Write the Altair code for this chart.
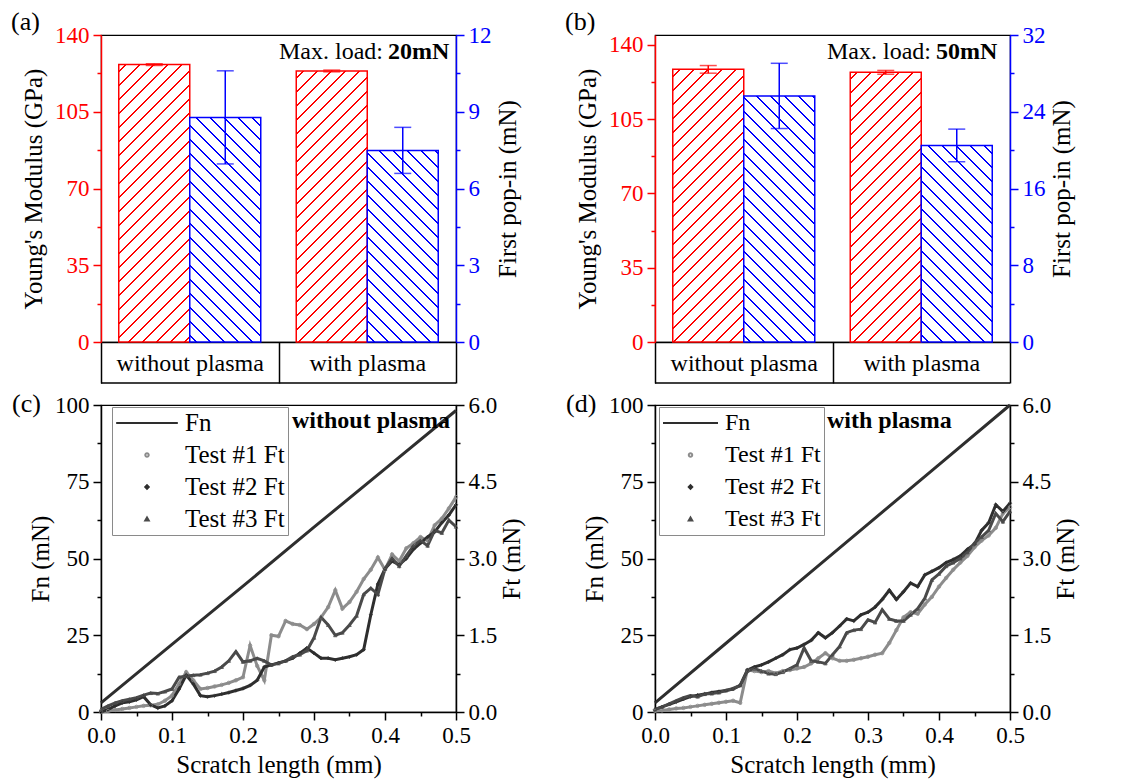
import altair as alt
import pandas as pd

FONT = "Liberation Serif"
RED = "#ff0000"
BLUE = "#0000ff"

# ---------------- data: bar panels (a) and (b) ----------------
categories = ["without plasma", "with plasma"]
modulus_20mN = [126.5, 123.6]
modulus_20mN_err = [0.4, 0.4]
popin_20mN = [8.78, 7.49]
popin_20mN_err = [1.82, 0.90]
modulus_50mN = [128.5, 127.1]
modulus_50mN_err = [1.8, 0.9]
popin_50mN = [25.65, 20.49]
popin_50mN_err = [3.4, 1.7]

# ---------------- data: scratch panels (c) and (d) ----------------
scratch_mm = [0.00, 0.01, 0.02, 0.03, 0.04, 0.05, 0.06, 0.07, 0.08, 0.09,
              0.10, 0.11, 0.12, 0.13, 0.14, 0.15, 0.16, 0.17, 0.18, 0.19,
              0.20, 0.21, 0.22, 0.23, 0.24, 0.25, 0.26, 0.27, 0.28, 0.29,
              0.30, 0.31, 0.32, 0.33, 0.34, 0.35, 0.36, 0.37, 0.38, 0.39,
              0.40, 0.41, 0.42, 0.43, 0.44, 0.45, 0.46, 0.47, 0.48, 0.49, 0.50]
fn_mm = [0.0, 0.1, 0.2, 0.3, 0.4, 0.5]
fn_without = [3.0, 22.0, 41.0, 60.2, 79.2, 98.2]
fn_with = [3.0, 22.4, 41.8, 61.2, 80.6, 100.0]

ft1_without = [0.00, 0.02, 0.04, 0.06, 0.08, 0.10, 0.12, 0.13, 0.15, 0.22,
               0.32, 0.55, 0.78, 0.62, 0.45, 0.47, 0.50, 0.53, 0.57, 0.62,
               0.68, 1.30, 0.90, 0.62, 1.50, 1.48, 1.78, 1.72, 1.70, 1.62,
               1.72, 1.85, 2.05, 2.38, 2.02, 2.15, 2.35, 2.60, 2.78, 3.02,
               2.78, 3.08, 2.95, 3.20, 3.30, 3.42, 3.35, 3.65, 3.78, 3.98, 4.20]
ft2_without = [0.00, 0.05, 0.12, 0.18, 0.20, 0.24, 0.30, 0.14, 0.08, 0.12,
               0.22, 0.45, 0.72, 0.55, 0.32, 0.30, 0.32, 0.35, 0.38, 0.42,
               0.46, 0.52, 0.62, 0.88, 0.92, 0.96, 1.00, 1.05, 1.15, 1.25,
               1.15, 1.05, 1.05, 1.02, 1.05, 1.08, 1.12, 1.22, 1.90, 2.50,
               2.80, 2.95, 2.88, 3.00, 3.18, 3.30, 3.42, 3.52, 3.70, 3.85, 4.05]
ft3_without = [0.05, 0.12, 0.18, 0.22, 0.25, 0.28, 0.33, 0.37, 0.36, 0.40,
               0.45, 0.68, 0.70, 0.72, 0.73, 0.76, 0.80, 0.88, 1.00, 1.18,
               0.98, 1.00, 1.05, 1.00, 0.92, 0.95, 1.00, 1.08, 1.12, 1.20,
               1.45, 1.85, 1.70, 1.50, 1.55, 1.70, 1.88, 2.30, 2.42, 2.30,
               2.80, 3.00, 2.85, 3.05, 3.25, 3.35, 3.25, 3.55, 3.50, 3.75, 3.62]

ft1_with = [0.02, 0.03, 0.05, 0.07, 0.08, 0.10, 0.12, 0.14, 0.16, 0.18,
            0.20, 0.22, 0.18, 0.82, 0.80, 0.78, 0.80, 0.76, 0.80, 0.82,
            0.85, 0.88, 0.95, 1.05, 1.15, 1.05, 1.00, 1.00, 1.02, 1.05,
            1.08, 1.12, 1.15, 1.35, 1.60, 1.85, 1.95, 1.92, 2.10, 2.25,
            2.45, 2.62, 2.78, 2.92, 3.05, 3.22, 3.35, 3.45, 3.60, 3.88, 4.00]
ft2_with = [0.05, 0.10, 0.15, 0.20, 0.25, 0.30, 0.33, 0.35, 0.38, 0.40,
            0.42, 0.45, 0.52, 0.82, 0.88, 0.92, 0.98, 1.05, 1.12, 1.22,
            1.25, 1.32, 1.40, 1.55, 1.45, 1.55, 1.68, 1.82, 1.78, 1.90,
            1.95, 2.05, 2.20, 2.38, 2.20, 2.35, 2.52, 2.45, 2.68, 2.75,
            2.82, 2.92, 2.98, 3.05, 3.18, 3.28, 3.55, 3.70, 4.05, 3.92, 4.08]
ft3_with = [0.05, 0.10, 0.16, 0.22, 0.28, 0.32, 0.30, 0.35, 0.36, 0.38,
            0.42, 0.46, 0.52, 0.80, 0.85, 0.80, 0.75, 0.74, 0.78, 0.85,
            0.92, 1.25, 1.00, 0.98, 0.95, 1.12, 1.28, 1.55, 1.60, 1.62,
            1.80, 1.75, 2.00, 1.82, 1.78, 1.78, 1.90, 2.02, 2.22, 2.58,
            2.70, 2.85, 2.92, 3.00, 3.12, 3.30, 3.42, 3.55, 3.88, 3.72, 3.92]

series_names = ["Fn", "Test #1 Ft", "Test #2 Ft", "Test #3 Ft"]
series_colors = ["#2e2e2e", "#8c8c8c", "#2e2e2e", "#4a4a4a"]
series_shapes = ["stroke", "circle", "diamond", "triangle-up"]

# ---------------- layout constants ----------------
PW, PH = 355, 307
BOX_H = 41
HATCH_GAP = 14.0
HATCH_LW = 1.4


def hatch(w, h, color, slant):
    """Linear gradient (bounding-box units) that draws 45-degree hatch lines."""
    S = w + h
    k = S / (w * w + h * h)
    a, b = k * w, k * h
    if slant == "/":
        x1, y1, x2, y2 = 0, 0, a, b
    else:
        x1, y1, x2, y2 = 0, 1, a, 1 - b
    half = HATCH_LW * 0.7071
    stops = [{"offset": 0, "color": "white"}]
    s = HATCH_GAP / 2
    while s - half < S:
        t0 = round(max(0.0, (s - half) / S), 5)
        t1 = round(min(1.0, (s + half) / S), 5)
        stops += [{"offset": t0, "color": "white"}, {"offset": t0, "color": color},
                  {"offset": t1, "color": color}, {"offset": t1, "color": "white"}]
        s += HATCH_GAP
    return {"gradient": "linear", "x1": x1, "y1": y1, "x2": round(x2, 5),
            "y2": round(y2, 5), "stops": stops}


def y_axis(orient, color, title, values, major, fmt, title_pad):
    kw = dict(orient=orient, title=title, values=values,
              labelExpr=f"({major}) ? format(datum.value, '{fmt}') : ''",
              tickSize={"condition": {"test": major, "value": 8}, "value": 4},
              domainColor=color, tickColor=color, labelColor=color, titleColor="black",
              domainWidth=1.5, tickWidth=1.5, labelFont=FONT, labelFontSize=23,
              titleFont=FONT, titleFontSize=25, titleFontWeight="normal",
              labelPadding=4, titlePadding=title_pad, grid=False,
              labelFlush=False, labelOverlap=False)
    if orient == "right":
        kw.update(titleAngle=270, titleBaseline="top")
    return alt.Axis(**kw)


def text_layer(txt, x, y, size, weight="normal", align="left"):
    return alt.Chart(pd.DataFrame({"t": [txt]})).mark_text(
        align=align, baseline="alphabetic", font=FONT, fontSize=size,
        fontWeight=weight, color="black").encode(
        x=alt.value(x), y=alt.value(y), text="t:N")


def bar_panel(tag, load, modulus, modulus_err, popin, popin_err,
              mod_max, pop_max, pop_values, pop_major, load_x):
    # category "box" under the plot is drawn by the band axis: ticks at band extents
    x_axis = alt.Axis(orient="bottom", title=None, tickBand="extent", tickSize=BOX_H,
                      tickColor="black", tickWidth=1.5, domainColor="black", domainWidth=1.5,
                      labelFont=FONT, labelFontSize=24, labelColor="black", labelAngle=0,
                      labelPadding=-32, labelBaseline="top", grid=False)
    x_enc = alt.X("cat:N", sort=categories,
                  scale=alt.Scale(paddingInner=0, paddingOuter=0), axis=x_axis)
    xo_enc = alt.XOffset("measure:N",
                         scale=alt.Scale(domain=["E", "P"], paddingInner=0, paddingOuter=0.25))
    bar_w = PW / 2.0 * 0.8 / 2.0
    mod_values = [0, 17.5, 35, 52.5, 70, 87.5, 105, 122.5, 140]
    lax = y_axis("left", RED, "Young's Modulus (GPa)", mod_values,
                 "datum.value % 35 === 0", "d", 8)
    rax = y_axis("right", BLUE, "First pop-in (mN)", pop_values, pop_major, "d", 4)

    def ly(f):
        return alt.Y(f, scale=alt.Scale(domain=[0, mod_max], nice=False), axis=lax)

    def ry(f):
        return alt.Y(f, scale=alt.Scale(domain=[0, pop_max], nice=False), axis=rax)

    def group(vals, errs, measure, color, slant, vmax, yf):
        layers = []
        for i, c in enumerate(categories):
            df = pd.DataFrame({"cat": [c], "measure": [measure], "value": [vals[i]]})
            h = vals[i] / vmax * PH
            layers.append(alt.Chart(df).mark_bar(
                fill=hatch(bar_w, h, color, slant), stroke=color, strokeWidth=1.5
            ).encode(x=x_enc, xOffset=xo_enc, y=yf("value:Q")))
        edf = pd.DataFrame({"cat": categories, "measure": [measure] * 2,
                            "lo": [v - e for v, e in zip(vals, errs)],
                            "hi": [v + e for v, e in zip(vals, errs)]})
        base = alt.Chart(edf)
        layers.append(base.mark_rule(color=color, strokeWidth=1.5).encode(
            x=x_enc, xOffset=xo_enc, y=yf("lo:Q"), y2="hi:Q"))
        for f in ["lo:Q", "hi:Q"]:
            layers.append(base.mark_tick(color=color, thickness=1.5, size=17).encode(
                x=x_enc, xOffset=xo_enc, y=yf(f)))
        return alt.layer(*layers)

    left = group(modulus, modulus_err, "E", RED, "/", mod_max, ly)
    right = group(popin, popin_err, "P", BLUE, "\\", pop_max, ry)
    box_bottom = alt.Chart(pd.DataFrame({"t": [0]})).mark_rule(
        color="black", strokeWidth=1.5).encode(
        x=alt.value(0), x2=alt.value(PW), y=alt.value(PH + BOX_H))
    texts = [
        text_layer(tag, -90, -5, 26),
        text_layer("Max. load:", load_x, 24, 24, align="right"),
        text_layer(load, load_x + 5, 24, 24, weight="bold"),
    ]
    return alt.layer(left, right, box_bottom, *texts).resolve_scale(
        y="independent").properties(width=PW, height=PH)


def line_panel(tag, label, label_x, fn_vals, ft1, ft2, ft3,
               legend_x, legend_font, fn_symbol):
    x_major = "round(datum.value * 100) % 10 === 0"
    x_enc = alt.X("mm:Q", scale=alt.Scale(domain=[0, 0.5], nice=False),
                  axis=alt.Axis(values=[0, 0.05, 0.1, 0.15, 0.2, 0.25, 0.3, 0.35, 0.4, 0.45, 0.5],
                                labelExpr=f"({x_major}) ? format(datum.value, '.1f') : ''",
                                tickSize={"condition": {"test": x_major, "value": 8}, "value": 4},
                                title="Scratch length (mm)", domainColor="black", tickColor="black",
                                labelColor="black", domainWidth=1.5, tickWidth=1.5,
                                labelFont=FONT, labelFontSize=23, titleFont=FONT,
                                titleFontSize=25, titleFontWeight="normal", labelPadding=4,
                                titlePadding=5, grid=False, labelFlush=False,
                                labelOverlap=False))
    lax = y_axis("left", "black", "Fn (mN)", [0, 12.5, 25, 37.5, 50, 62.5, 75, 87.5, 100],
                 "datum.value % 25 === 0", "d", 1)
    rax = y_axis("right", "black", "Ft (mN)", [0, 0.75, 1.5, 2.25, 3, 3.75, 4.5, 5.25, 6],
                 "datum.value % 1.5 === 0", ".1f", 3)
    legend = alt.Legend(title=None, orient="none", legendX=legend_x, legendY=2,
                        direction="vertical", labelFont=FONT, labelFontSize=legend_font,
                        labelColor="black", strokeColor="#8a8a8a", fillColor="white",
                        padding=3, clipHeight=26, rowPadding=6, labelOffset=6,
                        symbolStrokeWidth=2, symbolOpacity=1)
    sizes = [fn_symbol, 12, 12, 12]
    color = alt.Color("series:N", scale=alt.Scale(domain=series_names, range=series_colors),
                      legend=legend)
    shape = alt.Shape("series:N", scale=alt.Scale(domain=series_names, range=series_shapes),
                      legend=legend)
    size = alt.Size("series:N", scale=alt.Scale(type="ordinal", domain=series_names,
                                                range=sizes), legend=legend)

    fn_df = pd.DataFrame({"mm": fn_mm, "fn": fn_vals, "series": "Fn"})
    rows = []
    for name, vals in zip(series_names[1:], [ft1, ft2, ft3]):
        for x, v in zip(scratch_mm, vals):
            rows.append({"mm": x, "ft": v, "series": name})
    ft_df = pd.DataFrame(rows)

    fn_line = alt.Chart(fn_df).mark_line(strokeWidth=3).encode(
        x=x_enc, y=alt.Y("fn:Q", scale=alt.Scale(domain=[0, 100], nice=False), axis=lax),
        color=color)
    ry = alt.Y("ft:Q", scale=alt.Scale(domain=[0, 6], nice=False), axis=rax)
    ft_lines = alt.Chart(ft_df).mark_line(strokeWidth=3).encode(x=x_enc, y=ry, color=color)
    ft_pts = alt.Chart(ft_df).mark_point(filled=False, strokeWidth=0.8, opacity=1).encode(
        x=x_enc, y=ry, color=color, shape=shape, size=size)
    texts = [text_layer(tag, -89, 7, 26), text_layer(label, label_x, 23, 24, weight="bold")]
    return alt.layer(fn_line, alt.layer(ft_lines, ft_pts), *texts).resolve_scale(
        y="independent").properties(width=PW, height=PH)


panel_a = bar_panel("(a)", "20mN", modulus_20mN, modulus_20mN_err, popin_20mN, popin_20mN_err,
                    140, 12, [0, 1.5, 3, 4.5, 6, 7.5, 9, 10.5, 12], "datum.value % 3 === 0", 282)
panel_b = bar_panel("(b)", "50mN", modulus_50mN, modulus_50mN_err, popin_50mN, popin_50mN_err,
                    144.7, 32, [0, 4, 8, 12, 16, 20, 24, 28, 32], "datum.value % 8 === 0", 276)
panel_c = line_panel("(c)", "without plasma", 191, fn_without, ft1_without, ft2_without,
                     ft3_without, 11, 25, 3800)
panel_d = line_panel("(d)", "with plasma", 172, fn_with, ft1_with, ft2_with, ft3_with,
                     4, 24, 3025)

chart = alt.concat(panel_a, panel_b, panel_c, panel_d, columns=2,
                   spacing={"row": 63, "column": 199}, bounds="flush").resolve_scale(
    color="independent", shape="independent", size="independent").resolve_legend(
    color="independent", shape="independent", size="independent").configure_view(
    stroke="black", strokeWidth=1.2).properties(
    padding={"left": 2, "top": 0, "right": 5, "bottom": 5}, background="white")

chart.save("out.html", embed_options={"renderer": "svg", "actions": False})
